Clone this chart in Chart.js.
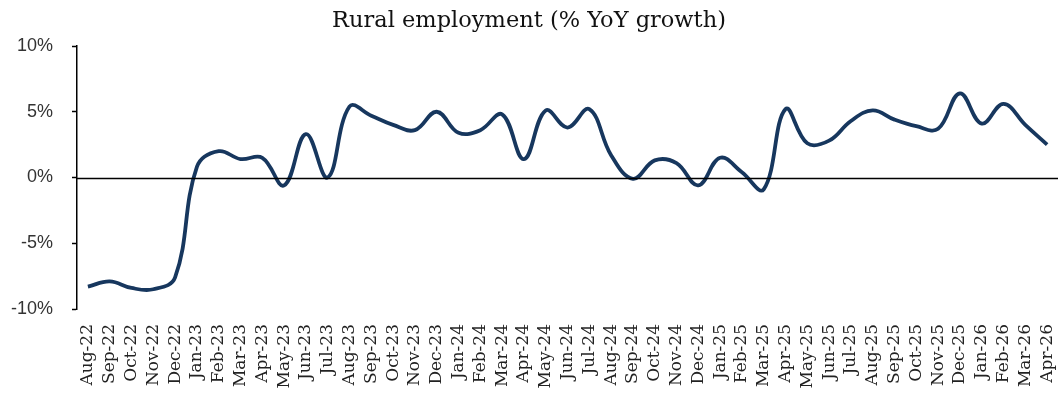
<!DOCTYPE html>
<html>
<head>
<meta charset="utf-8">
<script src="https://cdn.jsdelivr.net/npm/chart.js@4/dist/chart.umd.min.js"></script>
<style>
  html, body { margin: 0; padding: 0; background: #fff; }
  #wrap { width: 1058px; height: 401px; position: relative; }
</style>
</head>
<body>
<div id="wrap"><canvas id="ruralChart"></canvas></div>
<script>
// monthly labels and YoY growth (%)
const months = [
  'Aug-22', 'Sep-22', 'Oct-22', 'Nov-22', 'Dec-22',
  'Jan-23', 'Feb-23', 'Mar-23', 'Apr-23', 'May-23', 'Jun-23', 'Jul-23', 'Aug-23', 'Sep-23', 'Oct-23', 'Nov-23', 'Dec-23',
  'Jan-24', 'Feb-24', 'Mar-24', 'Apr-24', 'May-24', 'Jun-24', 'Jul-24', 'Aug-24', 'Sep-24', 'Oct-24', 'Nov-24', 'Dec-24',
  'Jan-25', 'Feb-25', 'Mar-25', 'Apr-25', 'May-25', 'Jun-25', 'Jul-25', 'Aug-25', 'Sep-25', 'Oct-25', 'Nov-25', 'Dec-25',
  'Jan-26', 'Feb-26', 'Mar-26', 'Apr-26'
];
const growth = [
  -8.3, -7.9, -8.4, -8.5, -7.6,
  0.8, 2.0, 1.4, 1.5, -0.6, 3.3, 0.0, 5.4, 4.7, 4.0, 3.6, 5.0,
  3.4, 3.6, 4.8, 1.4, 5.1, 3.8, 5.2, 1.7, -0.1, 1.3, 1.1, -0.6,
  1.5, 0.4, -0.9, 5.2, 2.6, 2.8, 4.3, 5.1, 4.4, 3.9, 3.7, 6.4,
  4.1, 5.6, 4.0, 2.5
];
const yTicks = [-10, -5, 0, 5, 10];

// black line at 0%
const zeroLine = {
  id: 'zeroLine',
  afterDatasetsDraw(chart) {
    const { ctx, chartArea, scales } = chart;
    const y = Math.round(scales.y.getPixelForValue(0)) + 0.5;
    ctx.save();
    ctx.strokeStyle = '#000';
    ctx.lineWidth = 1.5;
    ctx.beginPath();
    ctx.moveTo(chartArea.left, y);
    ctx.lineTo(chartArea.right, y);
    ctx.stroke();
    ctx.restore();
  }
};

new Chart(document.getElementById('ruralChart'), {
  type: 'line',
  data: {
    labels: months,
    datasets: [{
      data: growth,
      borderColor: '#17375e',
      borderWidth: 3.8,
      pointRadius: 0,
      tension: 0.4,
      fill: false
    }]
  },
  options: {
    responsive: true,
    maintainAspectRatio: false,
    animation: false,
    layout: { padding: 0 },
    plugins: {
      legend: { display: false },
      tooltip: { enabled: false },
      title: {
        display: true,
        text: 'Rural employment (% YoY growth)',
        color: '#111',
        font: { family: 'DejaVu Serif', size: 22.5, weight: 'normal' },
        padding: { top: 8, bottom: 11 }
      }
    },
    scales: {
      x: {
        offset: true,
        border: { display: false },
        grid: { display: false, drawTicks: false },
        afterFit(axis) { axis.height = 92; axis.paddingLeft = 0; axis.paddingRight = 0; },
        ticks: {
          autoSkip: false,
          maxRotation: 90,
          minRotation: 90,
          padding: 15,
          color: '#222',
          font: { family: 'DejaVu Serif', size: 17 }
        }
      },
      y: {
        min: -10,
        max: 10,
        afterBuildTicks(axis) { axis.ticks = yTicks.map(v => ({ value: v })); },
        afterFit(axis) { axis.width = 77; },
        border: { display: true, color: '#000', width: 1.5 },
        grid: { drawOnChartArea: false, drawTicks: true, tickLength: 5, tickColor: '#000', tickWidth: 1.5 },
        ticks: {
          padding: 19,
          color: '#333',
          font: { family: 'Liberation Sans', size: 18 },
          callback: v => v + '%'
        }
      }
    }
  },
  plugins: [zeroLine]
});
</script>
</body>
</html>
